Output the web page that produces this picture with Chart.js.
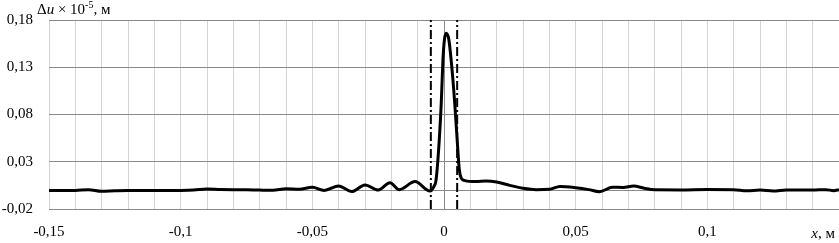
<!DOCTYPE html>
<html>
<head>
<meta charset="utf-8">
<script src="https://cdn.jsdelivr.net/npm/chart.js@4.4.0/dist/chart.umd.min.js"></script>
<style>
  html, body { margin: 0; padding: 0; background: #fff; }
  #wrap { width: 839px; height: 243px; position: relative; }
</style>
</head>
<body>
<div id="wrap"><canvas id="chart"></canvas></div>
<script>
// x coordinate, m
const xValues = [
  -0.150, -0.145, -0.140, -0.135, -0.130, -0.125, -0.120, -0.110, -0.100, -0.095,
  -0.090, -0.085, -0.080, -0.075, -0.070, -0.065, -0.060, -0.055, -0.050, -0.0455,
  -0.040, -0.035, -0.030, -0.025, -0.0205, -0.017, -0.011, -0.0053, -0.0038, -0.0030,
  -0.0018, -0.0010, -0.0004, 0.0002, 0.0008, 0.0018, 0.0027, 0.0040, 0.0050, 0.0058,
  0.0065, 0.0080, 0.012, 0.016, 0.020, 0.025, 0.030, 0.035, 0.040, 0.044,
  0.050, 0.055, 0.059, 0.064, 0.068, 0.072, 0.076, 0.080, 0.090, 0.100,
  0.110, 0.115, 0.120, 0.125, 0.130, 0.135, 0.140, 0.145, 0.148, 0.150
];
// displacement difference, x 10^-5 m
const duValues = [
  -0.0005, -0.0005, -0.0004, 0.0005, -0.0013, -0.0008, -0.0005, -0.0005, -0.0004, 0.0000,
  0.0012, 0.0007, 0.0004, 0.0003, 0.0000, -0.0002, 0.0015, 0.0010, 0.0030, -0.0003,
  0.0043, -0.0015, 0.0055, 0.0000, 0.0078, 0.0005, 0.0090, -0.0010, 0.0040, 0.0110,
  0.0530, 0.0950, 0.1380, 0.1600, 0.1660, 0.1600, 0.1380, 0.0950, 0.0530, 0.0220,
  0.0130, 0.0100, 0.0090, 0.0095, 0.0085, 0.0050, 0.0020, 0.0005, 0.0008, 0.0038,
  0.0025, 0.0005, -0.0017, 0.0030, 0.0028, 0.0043, 0.0020, 0.0003, 0.0002, 0.0006,
  0.0004, -0.0008, 0.0000, -0.0010, 0.0001, 0.0002, 0.0000, 0.0005, -0.0006, 0.0005
];
// dash-dot boundary lines
const boundaryX = [-0.005, 0.005];

const yTickValues = [-0.02, 0.03, 0.08, 0.13, 0.18];
const xLabelValues = [-0.15, -0.1, -0.05, 0, 0.05, 0.1];

const fmt = v => String(Math.round(v * 100) / 100).replace('.', ',');
const serif = '"Liberation Serif", "Times New Roman", serif';

const curve = xValues.map((x, i) => ({ x: x, y: duValues[i] }));

const datasets = [{
  data: curve,
  borderColor: '#000',
  borderWidth: 3,
  pointRadius: 0,
  cubicInterpolationMode: 'monotone',
  fill: false
}];
boundaryX.forEach(bx => {
  datasets.push({
    data: [{ x: bx, y: -0.02 }, { x: bx, y: 0.18 }],
    borderColor: '#000',
    borderWidth: 2,
    borderDash: [9, 3, 2, 3],
    pointRadius: 0,
    fill: false
  });
});

// axis captions drawn on canvas (mixed italic / superscript)
const captions = {
  id: 'captions',
  afterDraw(chart) {
    const c = chart.ctx;
    c.save();
    c.fillStyle = '#000';
    c.textBaseline = 'alphabetic';
    let x = 37, y = 14;
    const part = (t, font, dy) => {
      c.font = font;
      c.fillText(t, x, y + (dy || 0));
      x += c.measureText(t).width;
    };
    part('\u0394', '15px ' + serif);
    part('u', 'italic 15px ' + serif);
    part(' \u00d7 10', '15px ' + serif);
    part('-5', '10px ' + serif, -6);
    part(', \u043c', '15px ' + serif);

    // x axis caption
    c.font = '15px ' + serif;
    const tail = ', \u043c';
    const wTail = c.measureText(tail).width;
    c.font = 'italic 15px ' + serif;
    const wX = c.measureText('x').width;
    let sx = 835 - wTail - wX;
    c.fillText('x', sx, 238);
    c.font = '15px ' + serif;
    c.fillText(tail, sx + wX, 238);
    c.restore();
  }
};

new Chart(document.getElementById('chart'), {
  type: 'line',
  data: { datasets: datasets },
  plugins: [captions],
  options: {
    responsive: true,
    maintainAspectRatio: false,
    animation: false,
    layout: { padding: { top: 20, right: 0, left: 0, bottom: 0 } },
    plugins: { legend: { display: false }, tooltip: { enabled: false } },
    scales: {
      x: {
        type: 'linear',
        min: -0.15,
        max: 0.15,
        border: { display: false },
        grid: {
          drawTicks: false,
          lineWidth: 1,
          color: ctx => (ctx.tick && Math.abs(ctx.tick.value) < 1e-6) ? '#8a8a8a' : '#d4d4d4'
        },
        ticks: {
          stepSize: 0.01,
          padding: 14,
          maxRotation: 0,
          autoSkip: false,
          color: '#000',
          font: { family: serif, size: 15 },
          callback: v => xLabelValues.some(t => Math.abs(t - v) < 1e-6) ? fmt(v) : ''
        },
        afterFit: s => { s.height = 34; s.paddingLeft = 0; s.paddingRight = 0; }
      },
      y: {
        type: 'linear',
        min: -0.02,
        max: 0.18,
        border: { display: false },
        afterBuildTicks: s => {
          s.ticks = yTickValues.concat([0]).map(v => ({ value: v }));
        },
        grid: { drawTicks: false, color: '#8a8a8a', lineWidth: 1 },
        ticks: {
          padding: 16,
          color: '#000',
          font: { family: serif, size: 15 },
          callback: v => Math.abs(v) < 1e-9 ? '' : fmt(v)
        },
        afterFit: s => { s.width = 49; s.paddingTop = 0; s.paddingBottom = 0; }
      }
    }
  }
});
</script>
</body>
</html>
